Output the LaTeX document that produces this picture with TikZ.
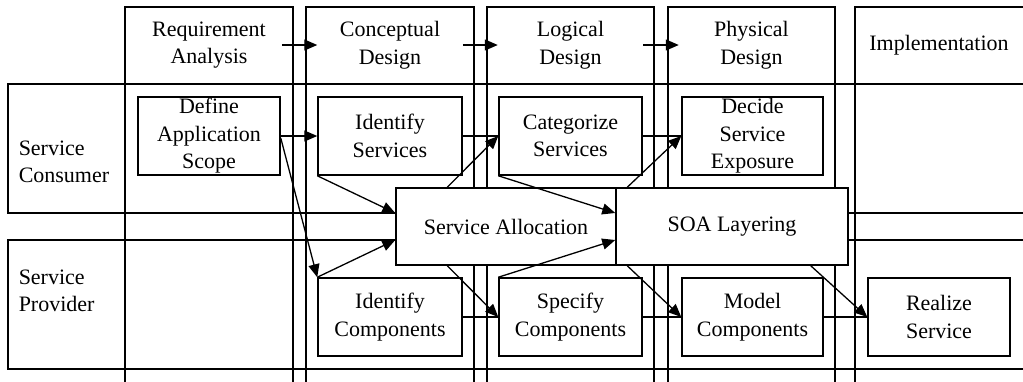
\documentclass[tikz,border=0pt]{standalone}
\usepackage{fontspec}
\setmainfont{Liberation Serif}
\usetikzlibrary{arrows.meta}
\begin{document}
\begin{tikzpicture}[x=1pt,y=-1pt,line width=1.5pt,
  txt/.style={font=\fontsize{22}{27.5}\selectfont, align=center, inner sep=0pt},
  pbox/.style={txt, draw, fill=white, rectangle, minimum width=#1, minimum height=78pt},
  bigbox/.style={txt, draw, fill=white, rectangle, minimum width=#1, minimum height=77pt},
  hdr/.style={txt, minimum width=144pt},
  arr/.style={-{Triangle[length=13pt,width=11pt]}, line width=1.3pt},
  ln/.style={line width=1.3pt}]
\useasboundingbox (0,0) rectangle (1023,381);
\clip (0,0) rectangle (1023,381);
% rows
\draw (8,84) rectangle (1040,213);
\draw (8,240) rectangle (1040,369);
% columns
\draw (125,7) rectangle (293,400);
\draw (306,7) rectangle (474,400);
\draw (487,7) rectangle (654,400);
\draw (668,7) rectangle (835,400);
\draw (855,7) rectangle (1040,400);
% headers
\node[hdr] (h1) at (209,45) {Requirement\\Analysis};
\node[hdr] (h2) at (390,45) {Conceptual\\Design};
\node[hdr] (h3) at (570.5,45) {Logical\\Design};
\node[hdr] (h4) at (751.5,45) {Physical\\Design};
\node[txt] (h5) at (939,45) {Implementation};
\draw[arr] (h1.east) -- (h2.west);
\draw[arr] (h2.east) -- (h3.west);
\draw[arr] (h3.east) -- (h4.west);
% row labels
\node[txt, align=left, anchor=west] (rc) at (18,162) {Service\\Consumer};
\node[txt, align=left, anchor=west] (rp) at (18,291) {Service\\Provider};
% boxes
\node[pbox=142pt] (def) at (209,136) {Define\\Application\\Scope};
\node[pbox=144pt] (ids) at (390,136) {Identify\\Services};
\node[pbox=143pt] (cat) at (570.5,136) {Categorize\\Services};
\node[pbox=141pt] (dec) at (752.5,136) {Decide\\Service\\Exposure};
\node[pbox=144pt] (idc) at (390,317) {Identify\\Components};
\node[pbox=143pt] (spc) at (570.5,317) {Specify\\Components};
\node[pbox=141pt] (mod) at (752.5,317) {Model\\Components};
\node[pbox=142pt] (rea) at (939,317) {Realize\\Service};
\node[bigbox=220pt] (sa) at (506,226.5) {Service Allocation};
\node[bigbox=232pt] (soa) at (732,226.5) {SOA Layering};
% plain links
\draw[ln] (ids.east) -- (cat.west);
\draw[ln] (cat.east) -- (dec.west);
\draw[ln] (idc.east) -- (spc.west);
\draw[ln] (spc.east) -- (mod.west);
\draw[ln] (mod.east) -- (rea.west);
% arrows
\draw[arr] (def.east) -- (ids.west);
\draw[arr] ([yshift=-2pt]def.east) -- (idc.north west);
\draw[arr] (ids.south west) -- ([yshift=13.5pt]sa.west);
\draw[arr] (idc.north west) -- ([yshift=-13.5pt]sa.west);
\draw[arr] ([xshift=52pt]sa.north west) -- (cat.west);
\draw[arr] ([xshift=52pt]sa.south west) -- (spc.west);
\draw[arr] (cat.south west) -- ([yshift=13.5pt]soa.west);
\draw[arr] (spc.north west) -- ([yshift=-13.5pt]soa.west);
\draw[arr] ([xshift=12pt]soa.north west) -- (dec.west);
\draw[arr] ([xshift=12pt]soa.south west) -- (mod.west);
\draw[arr] ([xshift=-38pt]soa.south east) -- (rea.west);
\end{tikzpicture}
\end{document}
